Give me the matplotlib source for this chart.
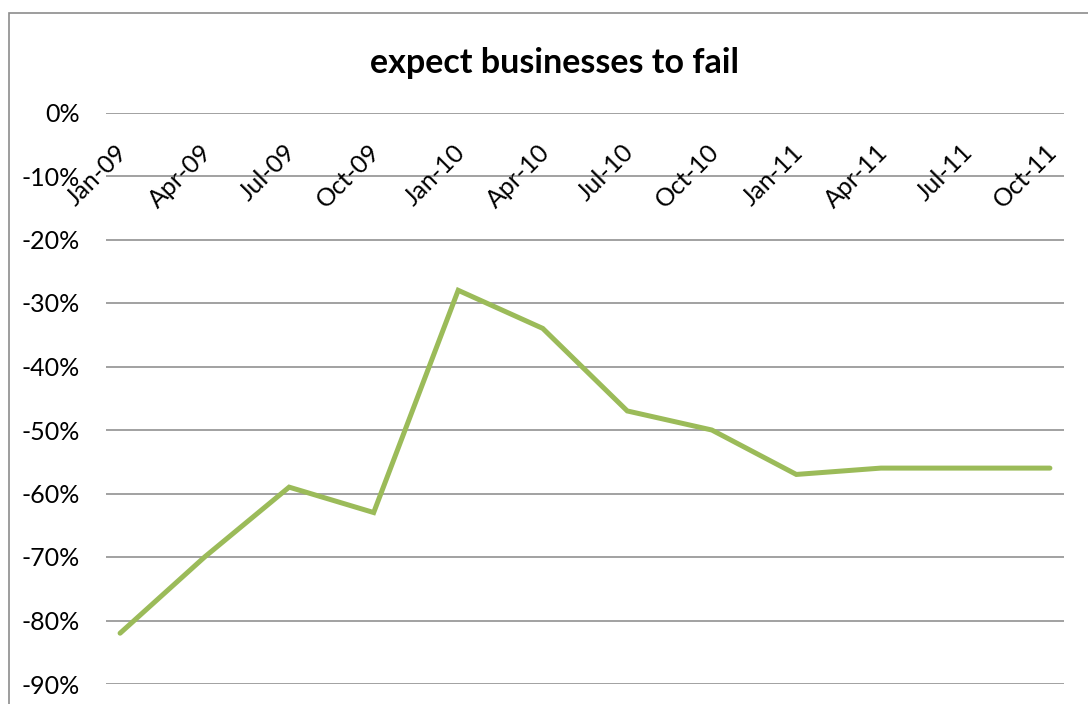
import numpy as np
import matplotlib
matplotlib.use("Agg")
import matplotlib.pyplot as plt
from matplotlib.patches import Rectangle
from matplotlib.transforms import offset_copy

plt.rcParams["font.family"] = ["Lato", "DejaVu Sans"]

# monthly date axis: Jan-09 .. Oct-11, one value per quarter
quarter_labels = ["Jan-09", "Apr-09", "Jul-09", "Oct-09", "Jan-10", "Apr-10",
                  "Jul-10", "Oct-10", "Jan-11", "Apr-11", "Jul-11", "Oct-11"]
month_index = np.arange(0, 34, 3)
expect_fail = np.array([-82, -70, -59, -63, -28, -34, -47, -50, -57, -56, -56, -56]) / 100.0
y_ticks = np.arange(0, -91, -10) / 100.0

fig = plt.figure(figsize=(10.88, 7.04), dpi=100)
ax = fig.add_axes([106 / 1088, 1 - 684 / 704, (1064 - 106) / 1088, (684 - 112.5) / 704])

# outer chart border (cropped on right / bottom)
fig.patches.append(Rectangle((9 / 1088, -0.5), 2.0, 0.5 + 1 - 13 / 704,
                             transform=fig.transFigure, fill=False,
                             edgecolor="#8c8c8c", linewidth=1.2, zorder=0))

for y in y_ticks:
    ax.axhline(y, color="#878787", linewidth=1.1, zorder=1)

ax.plot(month_index, expect_fail, color="#9BBB59", linewidth=3.6,
        solid_capstyle="round", solid_joinstyle="miter", zorder=3)

ax.set_xlim(-0.5, 33.5)
ax.set_ylim(-0.9, 0.0)
ax.set_yticks(y_ticks)
ax.set_yticklabels([f"{int(round(v * 100))}%" for v in y_ticks], fontsize=18)
ax.tick_params(axis="y", length=0, pad=19)
ax.set_xticks([])
for s in ax.spines.values():
    s.set_visible(False)
ax.patch.set_alpha(0)

lab_tr = offset_copy(ax.transData, fig=fig, x=3, y=-36, units="dots")
for xi, lab in zip(month_index, quarter_labels):
    ax.text(xi, 0, lab, transform=lab_tr, rotation=45, rotation_mode="anchor",
            ha="right", va="center", fontsize=18, zorder=4)

fig.text(555 / 1088, 1 - 63 / 704, "expect businesses to fail", ha="center",
         va="center", fontsize=24.5, fontweight="bold")

fig.savefig("out.png", dpi=100)
